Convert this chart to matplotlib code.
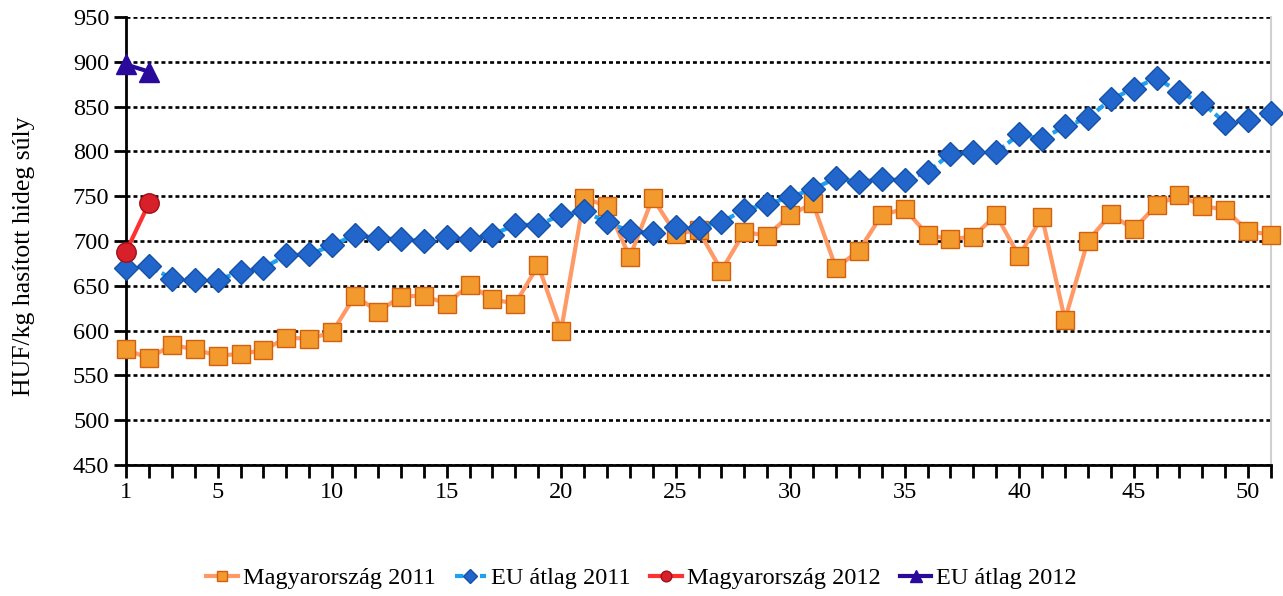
import numpy as np
import matplotlib
matplotlib.use('Agg')
from matplotlib import pyplot as plt

plt.rcParams['font.family'] = ['Liberation Serif', 'DejaVu Serif']

# weekly prices, HUF/kg
weeks_2011 = np.arange(1, 52)
hu_2011 = [579, 569, 584, 579, 572, 574, 578, 592, 591, 598,
           639, 621, 638, 639, 630, 651, 635, 630, 673, 600,
           748, 739, 682, 748, 708, 712, 667, 710, 706, 729,
           742, 670, 689, 729, 736, 707, 702, 705, 729, 683,
           727, 612, 700, 730, 713, 740, 751, 739, 735, 711, 707]
eu_2011 = [670, 672, 658, 657, 657, 665, 670, 684, 685, 695,
           707, 703, 702, 700, 704, 702, 707, 718, 718, 729,
           733, 721, 711, 709, 716, 715, 721, 735, 741, 749,
           758, 770, 766, 769, 768, 777, 797, 799, 799, 819,
           814, 828, 837, 858, 870, 882, 866, 854, 832, 835, 843]
weeks_2012 = [1, 2]
hu_2012 = [688, 742]
eu_2012 = [897, 889]

labels = ['Magyarország 2011', 'EU átlag 2011', 'Magyarország 2012', 'EU átlag 2012']

fig = plt.figure(figsize=(12.83, 5.96), dpi=100)
ax = fig.add_axes([126/1283, 131/596, 1145/1283, 448/596])

ax.plot(weeks_2011, hu_2011, color='#FF9966', lw=3, marker='s', ms=13.5,
        mfc='#F29A2E', mec='#D2600F', mew=1, label=labels[0], clip_on=False, zorder=3)
ax.plot(weeks_2011, eu_2011, color='#1EA0F0', lw=3, ls=(0, (2, 1)), marker='D', ms=12.5,
        mfc='#2266CC', mec='#1450A8', mew=1, label=labels[1], clip_on=False, zorder=4)
ax.plot(weeks_2012, hu_2012, color='#FF3030', lw=3, marker='o', ms=14,
        mfc='#D8202A', mec='#A01018', mew=1, label=labels[2], clip_on=False, zorder=5)
ax.plot(weeks_2012, eu_2012, color='#2A0A9A', lw=3, marker='^', ms=15,
        mfc='#2A0A9A', mec='#2A0A9A', label=labels[3], clip_on=False, zorder=5)

ax.set_xlim(1, 51)
ax.set_ylim(450, 950)
ax.set_yticks(np.arange(450, 951, 50))
ax.set_xticks(np.arange(1, 52))
ax.set_xticklabels([str(w) if (w == 1 or w % 5 == 0) else '' for w in range(1, 52)])

ax.yaxis.grid(True, color='black', lw=1.9, ls=(0, (1.5, 1.15)))
ax.set_axisbelow(True)

ax.spines['top'].set_visible(False)
ax.spines['right'].set_color('#D0D0D0')
ax.spines['right'].set_linewidth(1.5)
ax.spines['left'].set_linewidth(2)
ax.spines['bottom'].set_linewidth(2)
ax.tick_params(axis='both', direction='out', length=9, width=2, labelsize=17.5, colors='black')
ax.tick_params(axis='x', pad=3)
ax.tick_params(axis='y', pad=3)

ax.set_ylabel('HUF/kg hasított hideg súly', fontsize=18.5)
ax.yaxis.set_label_coords(-0.0795, 0.4665)

fig.legend(loc='center', bbox_to_anchor=(0.5, 1 - 578/596), ncol=4, frameon=False,
           fontsize=17.5, handlelength=1.3, handletextpad=0.2, columnspacing=0.8,
           markerscale=0.55)

fig.savefig('out.png', dpi=100)
